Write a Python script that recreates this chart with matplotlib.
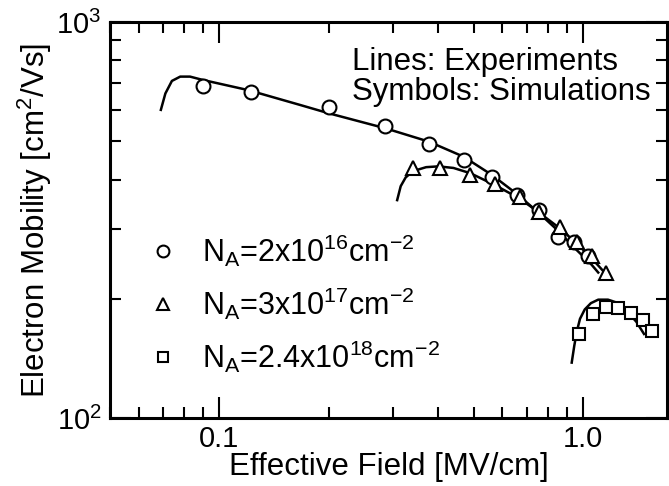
import matplotlib.pyplot as plt

plt.rcParams['font.family'] = ['Liberation Sans', 'DejaVu Sans']
plt.rcParams['mathtext.fontset'] = 'custom'
plt.rcParams['mathtext.rm'] = 'Liberation Sans'
plt.rcParams['mathtext.it'] = 'Liberation Sans:italic'
plt.rcParams['mathtext.bf'] = 'Liberation Sans:bold'

# simulations (symbols)
sim_field_16 = [0.090, 0.122, 0.200, 0.286, 0.376, 0.469, 0.561, 0.657, 0.754, 0.850, 0.945, 1.034]
sim_mob_16 = [689, 667, 609, 546, 492, 448, 406, 366, 335, 287, 279, 256]
sim_field_17 = [0.340, 0.403, 0.489, 0.573, 0.671, 0.754, 0.865, 0.961, 1.056, 1.157]
sim_mob_17 = [427, 427, 411, 391, 361, 332, 304, 279, 256, 232]
sim_field_18 = [0.971, 1.067, 1.157, 1.250, 1.355, 1.464, 1.547]
sim_mob_18 = [163, 183, 191, 190, 184, 177, 166]

# experiments (lines)
exp_field_16 = [0.069, 0.071, 0.074, 0.078, 0.083, 0.090, 0.120, 0.167, 0.200, 0.286,
                0.376, 0.469, 0.561, 0.657, 0.754, 0.850, 0.950, 1.050, 1.100]
exp_mob_16 = [600, 660, 710, 728, 728, 714, 673, 617, 588, 539,
              499, 457, 411, 368, 330, 298, 268, 245, 233]
exp_field_17 = [0.308, 0.315, 0.325, 0.340, 0.370, 0.400, 0.440, 0.490, 0.570,
                0.670, 0.750, 0.860, 0.960, 1.060, 1.150]
exp_mob_17 = [355, 385, 405, 420, 430, 432, 428, 415, 388,
              358, 332, 302, 276, 252, 232]
exp_field_18 = [0.930, 0.945, 0.960, 0.980, 1.010, 1.050, 1.100, 1.170, 1.250, 1.320, 1.400, 1.470]
exp_mob_18 = [138, 152, 165, 178, 188, 195, 199, 199, 195, 186, 175, 163]

labels = [r'N$_\mathrm{A}$=2x10$^{16}$cm$^{-2}$',
          r'N$_\mathrm{A}$=3x10$^{17}$cm$^{-2}$',
          r'N$_\mathrm{A}$=2.4x10$^{18}$cm$^{-2}$']

fig = plt.figure(figsize=(6.69, 4.86), dpi=100)
ax = fig.add_axes([0.1644, 0.1399, 0.8326, 0.8148])

lw = 1.8
for xf, ym in [(exp_field_16, exp_mob_16), (exp_field_17, exp_mob_17), (exp_field_18, exp_mob_18)]:
    ax.plot(xf, ym, '-', color='black', lw=lw)

mk = dict(linestyle='none', mfc='white', mec='black', mew=1.5, color='black')
h1, = ax.plot(sim_field_16, sim_mob_16, marker='o', ms=10, label=labels[0], **mk)
h2, = ax.plot(sim_field_17, sim_mob_17, marker='^', ms=10, label=labels[1], **mk)
h3, = ax.plot(sim_field_18, sim_mob_18, marker='s', ms=9, label=labels[2], **mk)

ax.set_xscale('log')
ax.set_yscale('log')
ax.set_xlim(0.05, 1.7)
ax.set_ylim(100, 1000)

ax.set_xticks([0.1, 1.0])
ax.set_xticklabels(['0.1', '1.0'])
ax.set_yticks([100, 1000])
ax.set_yticklabels([r'10$^2$', r'10$^3$'])
ax.yaxis.set_minor_formatter(plt.NullFormatter())
ax.xaxis.set_minor_formatter(plt.NullFormatter())

ax.tick_params(which='both', direction='in', top=True, right=True, width=1.5, labelsize=21)
ax.tick_params(which='major', length=15, pad=5)
ax.tick_params(axis='y', which='major', pad=6)
ax.tick_params(which='minor', length=8)
for s in ax.spines.values():
    s.set_linewidth(2.2)

ax.set_xlabel('Effective Field [MV/cm]', fontsize=22.5)
ax.xaxis.set_label_coords(0.5, -0.085)
ax.set_ylabel(r'Electron Mobility [cm$^2$/Vs]', fontsize=22.5, labelpad=2)

ax.text(0.4345, 0.8788, 'Lines: Experiments', transform=ax.transAxes, fontsize=22.5, va='baseline')
ax.text(0.4345, 0.803, 'Symbols: Simulations', transform=ax.transAxes, fontsize=22.5, va='baseline')

ax.legend(handles=[h1, h2, h3], loc='center left', bbox_to_anchor=(0.0684, 0.289),
          frameon=False, fontsize=22, markerscale=0.85, handlelength=1.0,
          handletextpad=0.77, labelspacing=0.55, borderpad=0, borderaxespad=0)

fig.savefig('out.png', dpi=100)
